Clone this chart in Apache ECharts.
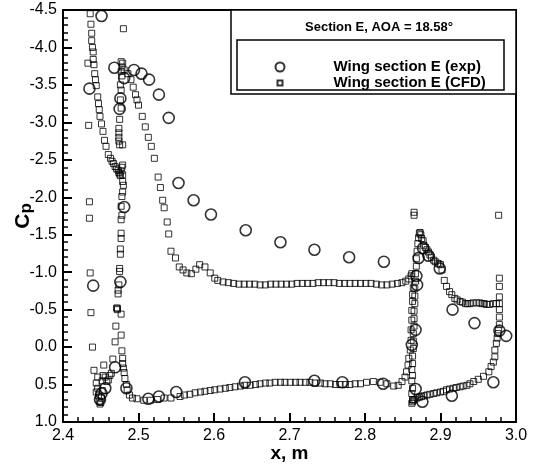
<!DOCTYPE html>
<html>
<head>
<meta charset="utf-8">
<script src="https://cdn.jsdelivr.net/npm/echarts@6/dist/echarts.min.js"></script>
<style>
html, body { margin: 0; padding: 0; background: #fff; }
#cp-chart { width: 535px; height: 466px; }
</style>
</head>
<body>
<div id="cp-chart"></div>
<script>
// experiment, [x, Cp]
var expPoints = [
  [2.451,-4.42],[2.435,-3.45],[2.468,-3.73],[2.481,-3.59],[2.494,-3.70],[2.504,-3.65],
  [2.514,-3.57],[2.527,-3.37],[2.540,-3.06],[2.476,-3.32],[2.475,-3.18],[2.553,-2.19],
  [2.573,-1.96],[2.596,-1.77],[2.642,-1.56],[2.688,-1.40],[2.733,-1.30],[2.779,-1.20],
  [2.825,-1.14],[2.481,-1.87],[2.440,-0.82],[2.476,-0.87],[2.469,0.27],[2.484,0.55],
  [2.456,0.55],[2.449,0.70],[2.451,0.62],[2.513,0.69],[2.527,0.66],[2.550,0.60],
  [2.641,0.47],[2.733,0.45],[2.770,0.47],[2.824,0.49],[2.867,0.56],[2.876,0.73],
  [2.915,0.65],[2.970,0.47],[2.978,-0.22],[2.987,-0.15],[2.945,-0.32],[2.916,-0.50],
  [2.867,-0.23],[2.862,-0.03],[2.869,-0.83],[2.868,-0.95],[2.871,-1.19],[2.877,-1.32],
  [2.884,-1.22],[2.899,-1.05]
];

// CFD, slat
var cfdSlat = [
  [2.436,-4.45],[2.437,-4.31],[2.438,-4.19],[2.438,-4.09],[2.439,-4.00],[2.440,-3.94],
  [2.440,-3.84],[2.441,-3.77],[2.442,-3.65],[2.443,-3.57],[2.444,-3.49],[2.446,-3.34],
  [2.447,-3.25],[2.448,-3.17],[2.449,-3.08],[2.451,-2.98],[2.453,-2.88],[2.455,-2.76],
  [2.457,-2.68],[2.460,-2.57],[2.463,-2.52],[2.465,-2.48],[2.467,-2.45],[2.469,-2.41],
  [2.471,-2.38],[2.473,-2.36],[2.474,-2.33],[2.475,-2.31],[2.476,-2.29],[2.477,-2.35],
  [2.478,-2.40],[2.479,-2.43],
  [2.433,-3.79],[2.434,-2.96],[2.435,-1.94],[2.435,-1.72],[2.436,-0.99],[2.437,-0.46],
  [2.439,0.00],[2.441,0.31],[2.444,0.48],[2.444,0.60],
  [2.446,0.40],[2.446,0.55],[2.447,0.65],[2.448,0.72],[2.449,0.76],[2.450,0.74],
  [2.451,0.68],[2.452,0.58],[2.452,0.45],[2.453,0.38],[2.454,0.24],[2.456,0.40],
  [2.458,0.46],[2.460,0.44],[2.462,0.38],[2.464,0.35],[2.466,0.16],[2.469,-0.07],
  [2.470,-0.28],[2.471,-0.52],[2.472,-0.50]
];

// CFD, main element
var cfdMain = [
  [2.480,-4.25],
  [2.477,-3.81],[2.479,-3.79],[2.478,-3.74],[2.477,-3.68],[2.478,-3.62],[2.476,-3.50],
  [2.477,-3.43],[2.476,-3.30],[2.477,-3.19],[2.475,-3.04],[2.474,-2.92],[2.474,-2.86],
  [2.474,-2.80],[2.474,-2.75],[2.475,-2.70],[2.479,-2.70],
  [2.479,-2.30],[2.479,-2.21],[2.480,-2.16],[2.479,-2.07],[2.478,-2.01],[2.477,-1.88],
  [2.478,-1.76],[2.477,-1.70],[2.477,-1.52],[2.477,-1.45],[2.476,-1.31],[2.476,-1.24],
  [2.475,-1.05],[2.475,-1.01],[2.474,-0.83],[2.473,-0.76],[2.473,-0.71],[2.472,-0.52],
  [2.477,-0.44],[2.477,-0.16],[2.478,0.05],[2.479,0.15],[2.479,0.22],[2.480,0.28],
  [2.481,0.34],[2.482,0.42],[2.484,0.50],[2.485,0.57],[2.488,0.64],[2.492,0.68],
  [2.498,0.69],[2.507,0.71],[2.516,0.71],[2.525,0.70],[2.534,0.68],[2.543,0.68],
  // lower side
  [2.555,0.66],[2.561,0.64],[2.568,0.63],[2.575,0.61],[2.582,0.60],[2.588,0.59],
  [2.595,0.58],[2.601,0.57],[2.608,0.56],[2.615,0.55],[2.621,0.54],[2.628,0.53],
  [2.635,0.52],[2.641,0.51],[2.648,0.51],[2.655,0.50],[2.661,0.49],[2.668,0.48],
  [2.674,0.48],[2.681,0.47],[2.688,0.47],[2.694,0.47],[2.701,0.47],[2.708,0.47],
  [2.714,0.47],[2.721,0.47],[2.727,0.47],[2.734,0.48],[2.741,0.48],[2.747,0.49],
  [2.754,0.49],[2.761,0.50],[2.767,0.50],[2.774,0.50],[2.780,0.50],[2.787,0.49],
  [2.794,0.49],[2.802,0.47],[2.811,0.46],[2.820,0.47],[2.829,0.49],[2.838,0.52],
  [2.844,0.51],[2.849,0.46],[2.853,0.40],[2.855,0.33],[2.857,0.24],[2.858,0.15],
  [2.860,0.04],[2.861,-0.09],[2.861,-0.23],[2.862,-0.36],[2.862,-0.49],[2.863,-0.61],
  [2.863,-0.70],[2.864,-0.79],
  // upper side
  [2.481,-3.70],[2.486,-3.65],[2.490,-3.57],[2.493,-3.47],[2.496,-3.37],[2.498,-3.30],
  [2.500,-3.23],[2.505,-3.08],[2.509,-2.94],[2.513,-2.80],[2.517,-2.68],[2.521,-2.52],
  [2.526,-2.27],[2.529,-2.13],[2.532,-1.96],[2.534,-1.86],[2.538,-1.67],[2.540,-1.51],
  [2.543,-1.28],[2.549,-1.19],[2.554,-1.07],[2.559,-1.03],[2.564,-0.99],[2.570,-0.98],
  [2.576,-1.04],[2.581,-1.10],[2.588,-1.07],[2.595,-0.99],[2.601,-0.92],[2.605,-0.89],
  [2.612,-0.87],[2.619,-0.86],[2.626,-0.85],[2.633,-0.84],[2.640,-0.84],[2.647,-0.84],
  [2.654,-0.84],[2.661,-0.83],[2.668,-0.83],[2.675,-0.84],[2.682,-0.84],[2.689,-0.84],
  [2.696,-0.84],[2.703,-0.84],[2.710,-0.85],[2.717,-0.85],[2.724,-0.85],[2.731,-0.85],
  [2.738,-0.86],[2.745,-0.86],[2.752,-0.86],[2.759,-0.86],[2.766,-0.85],[2.773,-0.85],
  [2.780,-0.85],[2.787,-0.85],[2.794,-0.85],[2.801,-0.85],[2.808,-0.85],[2.815,-0.84],
  [2.822,-0.83],[2.829,-0.83],[2.836,-0.84],[2.843,-0.85],[2.849,-0.86],[2.854,-0.88],
  [2.858,-0.91],[2.861,-0.95],[2.862,-0.98]
];

// CFD, flap
var cfdFlap = [
  [2.862,0.75],[2.863,0.70],[2.862,0.62],[2.863,0.55],[2.862,0.45],[2.863,0.38],
  [2.862,0.30],[2.863,0.22],[2.863,0.12],[2.864,0.02],[2.864,-0.08],[2.864,-0.18],
  [2.865,-0.28],[2.865,-0.38],[2.865,-0.48],[2.866,-0.58],[2.866,-0.68],[2.866,-0.78],
  [2.867,-0.88],[2.867,-0.98],[2.868,-1.08],[2.868,-1.18],[2.869,-1.28],[2.870,-1.38],
  [2.871,-1.46],[2.872,-1.52],[2.873,-1.53],[2.874,-1.50],
  [2.875,-1.45],[2.877,-1.42],[2.878,-1.36],[2.880,-1.33],[2.882,-1.30],[2.884,-1.27],
  [2.886,-1.23],[2.888,-1.20],[2.891,-1.16],[2.893,-1.14],[2.896,-1.12],[2.898,-1.11],
  [2.900,-1.10],[2.902,-1.03],[2.905,-0.89],[2.908,-0.81],[2.912,-0.74],[2.915,-0.70],
  [2.919,-0.65],[2.922,-0.63],[2.926,-0.61],[2.929,-0.60],[2.933,-0.58],[2.936,-0.58],
  [2.939,-0.58],[2.943,-0.59],[2.948,-0.59],[2.952,-0.59],[2.955,-0.58],[2.958,-0.58],
  [2.961,-0.57],[2.965,-0.57],[2.970,-0.58],[2.974,-0.58],[2.978,-0.58],
  [2.978,-0.67],[2.978,-0.81],[2.978,-0.92],[2.977,-1.76],[2.865,-1.80],[2.865,-1.76],
  // lower side
  [2.863,0.73],[2.864,0.71],[2.866,0.70],[2.869,0.68],[2.872,0.67],[2.875,0.66],
  [2.878,0.65],[2.882,0.64],[2.886,0.63],[2.891,0.62],[2.895,0.61],[2.900,0.60],
  [2.904,0.59],[2.908,0.57],[2.912,0.56],[2.917,0.55],[2.921,0.54],[2.926,0.53],
  [2.930,0.52],[2.935,0.51],[2.939,0.49],[2.944,0.46],[2.950,0.43],[2.957,0.39],
  [2.964,0.33],[2.967,0.26],[2.970,0.20],[2.972,0.13],[2.972,0.04],[2.974,-0.05],
  [2.975,-0.12],[2.976,-0.18],[2.977,-0.23],[2.978,-0.30],[2.978,-0.40],[2.978,-0.50]
];

var xTicks = { min: 2.4, max: 3.0, step: 0.1 };
var yTicks = { min: -4.5, max: 1.0, step: 0.5 };

var font = '"Liberation Sans", Arial, Helvetica, sans-serif';
var chart = echarts.init(document.getElementById('cp-chart'));

var cfd = cfdSlat.concat(cfdMain).concat(cfdFlap);

var legendText = { fontSize: 15, fontWeight: 'bold', color: '#000', fontFamily: font, lineHeight: 16 };

var option = {
  animation: false,
  backgroundColor: '#fff',
  textStyle: { fontFamily: font, color: '#000' },
  grid: {
    left: 63, right: 19, top: 10, bottom: 44,
    outerBoundsMode: 'none',
    containLabel: false,
    show: true, borderColor: '#000', borderWidth: 2, backgroundColor: 'transparent'
  },
  xAxis: {
    type: 'value',
    min: xTicks.min, max: xTicks.max, interval: xTicks.step,
    name: 'x, m',
    nameLocation: 'middle',
    nameGap: 22,
    nameMoveOverlap: false,
    nameTextStyle: { fontSize: 19, fontWeight: 'bold', color: '#000', fontFamily: font },
    axisLine: { show: true, onZero: false, lineStyle: { color: '#000', width: 2 } },
    axisTick: { show: true, inside: true, length: 9, lineStyle: { color: '#000', width: 2 } },
    minorTick: { show: true, splitNumber: 5, length: 5, lineStyle: { color: '#000', width: 1.5 } },
    splitLine: { show: false },
    axisLabel: {
      margin: 6, fontSize: 16, color: '#000', fontFamily: font,
      formatter: function (v) { return v.toFixed(1); }
    }
  },
  yAxis: {
    type: 'value',
    inverse: true,
    min: yTicks.min, max: yTicks.max, interval: yTicks.step,
    name: '{c|C}{p|p}',
    nameLocation: 'middle',
    nameRotate: 90,
    nameGap: 28,
    nameMoveOverlap: false,
    nameTextStyle: {
      rich: {
        c: { fontSize: 21, fontWeight: 'bold', color: '#000', fontFamily: font },
        p: { fontSize: 17, fontWeight: 'bold', color: '#000', fontFamily: font, padding: [7, 0, 0, 0] }
      }
    },
    axisLine: { show: true, onZero: false, lineStyle: { color: '#000', width: 2 } },
    axisTick: { show: true, inside: true, length: 9, lineStyle: { color: '#000', width: 2 } },
    minorTick: { show: true, splitNumber: 5, length: 5, lineStyle: { color: '#000', width: 1.5 } },
    splitLine: { show: false },
    axisLabel: {
      margin: 6, fontSize: 16, color: '#000', fontFamily: font,
      formatter: function (v) { return v.toFixed(1); }
    }
  },
  legend: [
    {
      data: ['Wing section E (exp)'],
      left: 274.5, top: 59, padding: 0,
      itemWidth: 9, itemHeight: 9,
      textStyle: Object.assign({ padding: [0, 0, 0, 44] }, legendText)
    },
    {
      data: ['Wing section E (CFD)'],
      left: 276.5, top: 75, padding: 0,
      itemWidth: 5, itemHeight: 5,
      textStyle: Object.assign({ padding: [0, 0, 0, 46] }, legendText)
    }
  ],
  graphic: [
    {
      type: 'rect', silent: true, z: 1,
      shape: { x: 231, y: 10, width: 285, height: 84 },
      style: { fill: '#fff', stroke: '#000', lineWidth: 1.5 }
    },
    {
      type: 'rect', silent: true, z: 2,
      shape: { x: 237, y: 40, width: 267, height: 50 },
      style: { fill: 'none', stroke: '#000', lineWidth: 1.5 }
    },
    {
      type: 'text', silent: true, z: 3,
      left: 305, top: 21,
      style: { text: 'Section E, AOA = 18.58°', fontSize: 13, fontWeight: 'bold', fill: '#000', fontFamily: font }
    }
  ],
  series: [
    {
      name: 'Wing section E (CFD)',
      type: 'scatter',
      symbol: 'rect',
      symbolSize: 6,
      z: 3,
      itemStyle: { color: 'transparent', borderColor: '#000', borderWidth: 1 },
      data: cfd
    },
    {
      name: 'Wing section E (exp)',
      type: 'scatter',
      symbol: 'circle',
      symbolSize: 11,
      z: 4,
      itemStyle: { color: 'transparent', borderColor: '#000', borderWidth: 1.6 },
      data: expPoints
    }
  ]
};

chart.setOption(option);
</script>
</body>
</html>
